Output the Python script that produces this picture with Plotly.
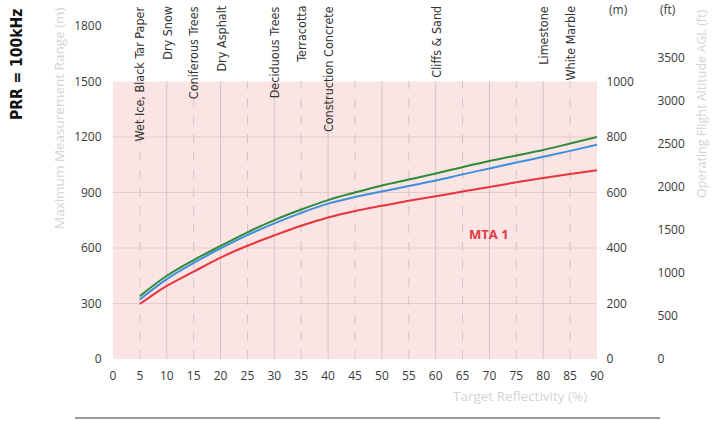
import plotly.graph_objects as go

# ---- data ----
reflectivity = [5, 10, 15, 20, 25, 30, 35, 40, 45, 50, 55, 60, 65, 70, 75, 80, 85, 90]
range_green = [340, 450, 535, 611, 685, 751, 808, 859, 900, 938, 970, 1003, 1037, 1070, 1100, 1130, 1165, 1200]
range_blue = [322, 432, 519, 598, 670, 733, 790, 840, 876, 905, 935, 965, 998, 1030, 1062, 1093, 1125, 1158]
range_red = [297, 395, 472, 548, 612, 668, 720, 765, 800, 828, 855, 880, 905, 930, 955, 978, 1000, 1020]

materials = ["Wet Ice, Black Tar Paper", "Dry Snow", "Coniferous Trees", "Dry Asphalt",
             "Deciduous Trees", "Terracotta", "Construction Concrete", "Cliffs & Sand",
             "Limestone", "White Marble"]
material_refl = [5, 10, 15, 20, 30, 35, 40, 60, 80, 85]

x_ticks = list(range(0, 95, 5))
left_ticks = [0, 300, 600, 900, 1200, 1500, 1800]
m_ticks = [0, 200, 400, 600, 800, 1000]
ft_ticks = [0, 500, 1000, 1500, 2000, 2500, 3000, 3500]
shaded_top = 1500

# ---- layout constants (page body margin removed, pixels = picture pixels) ----
W, H = 712, 421
ML, MR, MT, MB = 113, 20, 5, 62
plot_w = W - ML - MR
plot_h = H - MT - MB
xdom_end = 484 / plot_w
left_top = plot_h * 1800 / 333
m_top = left_top / 1.5
ft_top = plot_h * 3500 / 301


def px(rx):
    return (rx - ML) / plot_w


def py(ry):
    return (H - MB - ry) / plot_h


tick_font = dict(family="Open Sans, Lato, sans-serif", size=12, color="#3a3a3a")

fig = go.Figure()
colors = {"green": "#2e8b3a", "blue": "#3d8fe0", "red": "#e8343a"}
for vals, c in [(range_red, colors["red"]), (range_blue, colors["blue"]), (range_green, colors["green"])]:
    fig.add_trace(go.Scatter(x=reflectivity, y=vals, mode="lines", line=dict(color=c, width=2, shape="spline"),
                             showlegend=False, hoverinfo="skip"))

fig.add_trace(go.Scatter(x=[0], y=[0], yaxis="y2", mode="markers", marker=dict(opacity=0), showlegend=False, hoverinfo="skip"))
fig.add_trace(go.Scatter(x=[0], y=[0], yaxis="y3", mode="markers", marker=dict(opacity=0), showlegend=False, hoverinfo="skip"))

shapes = []
shapes.append(dict(type="rect", xref="x", yref="y", x0=0, x1=90, y0=0, y1=shaded_top,
                   fillcolor="#fbe4e4", line=dict(width=0), layer="below"))
for v in left_ticks:
    if 0 < v < shaded_top:
        shapes.append(dict(type="line", xref="x", yref="y", x0=0, x1=90, y0=v, y1=v,
                           line=dict(color="#e3cccc", width=1), layer="below"))
for v in x_ticks:
    if 0 < v < 90:
        dashed = (v % 10 != 0)
        shapes.append(dict(type="line", xref="x", yref="y", x0=v, x1=v, y0=0, y1=shaded_top,
                           line=dict(color="#d6c3c3", width=1, dash="dash" if dashed else "solid"),
                           layer="below"))
shapes.append(dict(type="line", xref="paper", yref="paper", x0=px(75), x1=px(660), y0=py(418), y1=py(418),
                   line=dict(color="#9a9a9a", width=2)))

annotations = []
narrow = "Liberation Sans Narrow, DejaVu Sans Condensed, sans-serif"
label_font = dict(family=narrow, size=12.5, color="#333333")
for name, r in zip(materials, material_refl):
    annotations.append(dict(x=r, y=py(4), xref="x", yref="paper", text=name, textangle=-90,
                            showarrow=False, xanchor="center", yanchor="top", font=label_font))


def note(x, y, text, font, angle=0, yanchor="middle"):
    return dict(x=x, y=y, xref="paper", yref="paper", text=text, textangle=angle, showarrow=False,
                xanchor="center", yanchor=yanchor, font=font)


faint = dict(family="Open Sans, sans-serif", size=13.5, color="#d4d4d4")
faint_r = dict(family="Open Sans, sans-serif", size=12.5, color="#d4d4d4")
annotations += [
    note(px(17), py(65), "PRR = 100kHz", dict(family=narrow, size=15.5, color="#111111", weight="bold"), -90),
    note(px(59), py(118), "Maximum Measurement Range (m)", faint, -90),
    note(px(701), py(200), "Operating Flight Altitude AGL (ft)", faint_r, -90, yanchor="bottom"),
    note(px(618), py(9), "(m)", tick_font),
    note(px(668), py(9), "(ft)", tick_font),
    note(px(520), py(396), "Target Reflectivity (%)", faint),
    dict(x=70, y=675, xref="x", yref="y", text="<b>MTA 1</b>", showarrow=False,
         font=dict(family="Open Sans, sans-serif", size=13, color="#e23a44")),
]

common = dict(showgrid=False, zeroline=False, showline=False, automargin=False,
              ticks="outside", tickcolor="rgba(0,0,0,0)", tickfont=tick_font)

fig.update_layout(
    width=W, height=H,
    margin=dict(l=ML, r=MR, t=MT, b=MB),
    paper_bgcolor="white", plot_bgcolor="rgba(0,0,0,0)",
    showlegend=False,
    xaxis=dict(domain=[0, xdom_end], range=[0, 90], tickvals=x_ticks, ticklen=6, **common),
    yaxis=dict(range=[0, left_top], tickvals=left_ticks, ticklen=8, **common),
    yaxis2=dict(range=[0, m_top], tickvals=m_ticks, overlaying="y", side="right", anchor="x",
                ticklen=6, **common),
    yaxis3=dict(range=[0, ft_top], tickvals=ft_ticks, overlaying="y", side="right", anchor="free",
                position=px(650), ticklen=4, **common),
    shapes=shapes,
    annotations=annotations,
)

fig.write_html("out.html", config={"displayModeBar": False},
               post_script="document.body.style.margin='0px';document.body.style.overflow='hidden';")
